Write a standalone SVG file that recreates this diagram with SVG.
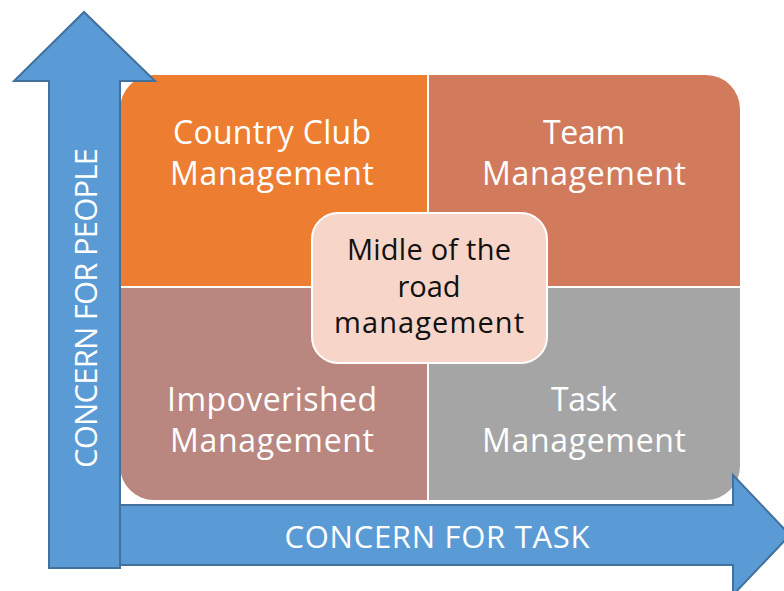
<svg xmlns="http://www.w3.org/2000/svg" width="784" height="591" viewBox="0 0 784 591">
<style>
.q{font-family:"Open Sans","Liberation Sans",sans-serif;font-size:32px;fill:#fff;text-anchor:middle}
.c{font-family:"Open Sans","Liberation Sans",sans-serif;font-size:29px;fill:#111;text-anchor:middle}
.a{fill:#5B9BD5;stroke:#41719C;stroke-width:2}
.ax{font-family:"Open Sans","Liberation Sans",sans-serif;font-size:31px;fill:#fff;text-anchor:middle}
</style>
<defs>
<clipPath id="grid"><rect x="120" y="75" width="620" height="425" rx="34"/></clipPath>
</defs>
<g id="quadrants" clip-path="url(#grid)">
<rect id="q-tl" x="120" y="75" width="308" height="212" fill="#ED7D31"/>
<rect id="q-tr" x="428" y="75" width="312" height="212" fill="#D17B5C"/>
<rect id="q-bl" x="120" y="287" width="308" height="213" fill="#B9877F"/>
<rect id="q-br" x="428" y="287" width="312" height="213" fill="#A5A5A5"/>
<line x1="428" y1="75" x2="428" y2="500" stroke="#fff" stroke-width="2"/>
<line x1="120" y1="287" x2="740" y2="287" stroke="#fff" stroke-width="2"/>
</g>
<g id="country-club"><text class="q" x="272" y="144" textLength="198">Country Club</text><text class="q" x="272" y="185" textLength="204">Management</text></g>
<g id="team"><text class="q" x="584" y="144" textLength="82">Team</text><text class="q" x="584" y="185" textLength="204">Management</text></g>
<g id="impoverished"><text class="q" x="272" y="411" textLength="210">Impoverished</text><text class="q" x="272" y="452" textLength="204">Management</text></g>
<g id="task"><text class="q" x="584" y="411" textLength="66">Task</text><text class="q" x="584" y="452" textLength="204">Management</text></g>
<g id="middle">
<rect x="312" y="213" width="235" height="150" rx="26" fill="#F8D5C9" stroke="#fff" stroke-width="2"/>
<text class="c" x="429" y="260" textLength="164">Midle of the</text>
<text class="c" x="429" y="297">road</text>
<text class="c" x="429" y="333" textLength="190">management</text>
</g>
<g id="connectors">
<path id="x-axis" class="a" d="M120,505 H733 V475 L790,535 L733,595 V565 H120 Z"/>
<path id="y-axis" class="a" d="M49,568 V81 H14 L84,12 L155,81 H120 V568 Z"/>
</g>
<text class="ax" transform="translate(97,308) rotate(-90)" textLength="320">CONCERN FOR PEOPLE</text>
<text class="ax" x="437" y="548" textLength="305">CONCERN FOR TASK</text>
</svg>
